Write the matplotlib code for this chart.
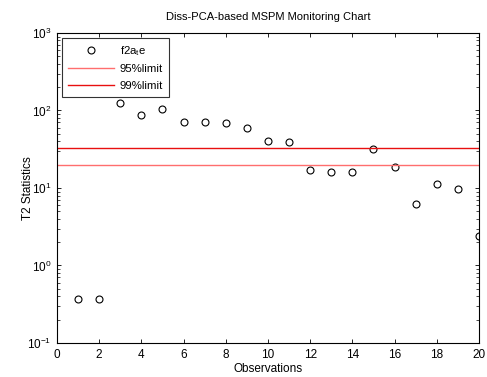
import numpy as np
import matplotlib
matplotlib.use("Agg")
from matplotlib import pyplot as plt
from matplotlib.ticker import LogLocator, NullFormatter

plt.rcParams['font.family'] = ['Liberation Sans', 'DejaVu Sans']
plt.rcParams['mathtext.fontset'] = 'custom'
plt.rcParams['mathtext.rm'] = 'Liberation Sans'
plt.rcParams['mathtext.it'] = 'Liberation Sans'

# T2 values per observation
obs = np.arange(1, 21)
t2 = [0.37, 0.37, 126, 88, 106, 70, 70, 68, 60, 40.3,
      38.7, 17.3, 16.3, 16.3, 31.5, 18.9, 6.3, 11.1, 9.6, 2.4]
lim95 = 19.8
lim99 = 32.7

fig = plt.figure(figsize=(4.87, 3.77), dpi=100)
ax = fig.add_axes([0.117, 0.0902, 0.8665, 0.8223])

ax.plot(obs, t2, 'o', mfc='none', mec='k', ms=5, mew=0.8, label='f2a$_t$e')
ax.axhline(lim95, color='#ff6e6e', lw=1.0, label='95%limit')
ax.axhline(lim99, color='#e81010', lw=1.0, label='99%limit')

ax.set_yscale('log')
ax.set_xlim(0, 20)
ax.set_ylim(0.1, 1000)
ax.set_xticks(np.arange(0, 21, 2))
ax.yaxis.set_major_locator(LogLocator(base=10, numticks=10))
ax.yaxis.set_minor_locator(LogLocator(base=10, subs=np.arange(2, 10), numticks=10))
ax.yaxis.set_minor_formatter(NullFormatter())

ax.tick_params(which='both', direction='in', top=True, right=True, labelsize=8.5)
ax.tick_params(which='major', length=3, width=0.6, pad=4)
ax.tick_params(which='minor', length=2, width=0.5)
for s in ax.spines.values():
    s.set_linewidth(0.8)

ax.set_title('Diss-PCA-based MSPM Monitoring Chart', fontsize=8, pad=9)
ax.set_xlabel('Observations', fontsize=8.5, labelpad=2)
ax.set_ylabel('T2 Statistics', fontsize=8.5)
ax.yaxis.set_label_coords(-0.055, 0.5)

leg = ax.legend(loc='upper left', fontsize=8.2, frameon=True, fancybox=False,
                edgecolor='k', borderaxespad=0.45, handlelength=4.0,
                handletextpad=0.5, labelspacing=0.55, borderpad=0.55)
leg.get_frame().set_linewidth(0.8)

fig.savefig('out.png', dpi=100)
